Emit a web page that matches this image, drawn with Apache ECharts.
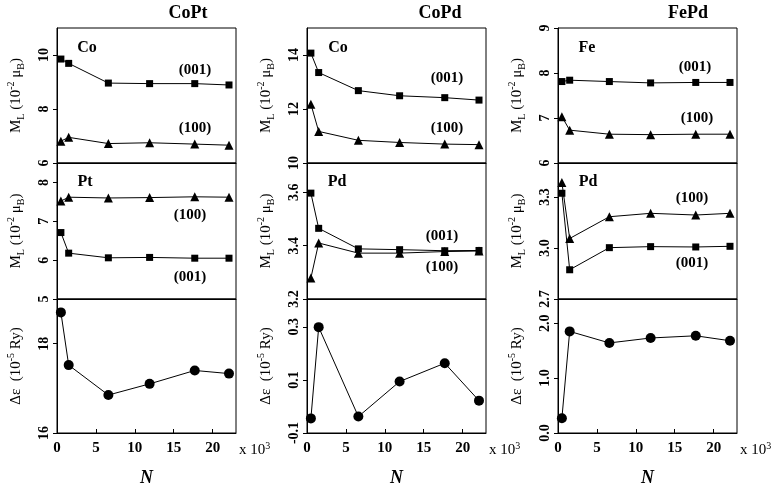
<!DOCTYPE html>
<html>
<head>
<meta charset="utf-8">
<script src="https://cdn.jsdelivr.net/npm/echarts@6/dist/echarts.min.js"></script>
<style>
  html, body { margin: 0; padding: 0; background: #fff; }
  #chart { width: 774px; height: 489px; }
</style>
</head>
<body>
<div id="chart"></div>
<script>
// cluster size N (x 10^3), shared by all panels
var N = [0.5, 1.5, 6.6, 11.9, 17.7, 22.1];

// CoPt
var coptCo001 = [9.85, 9.69, 8.96, 8.94, 8.94, 8.89];
var coptCo100 = [6.81, 6.95, 6.72, 6.75, 6.70, 6.66];
var coptPt100 = [7.52, 7.62, 7.60, 7.61, 7.63, 7.62];
var coptPt001 = [6.71, 6.18, 6.06, 6.07, 6.05, 6.05];
var coptDe = [18.70, 17.52, 16.85, 17.10, 17.40, 17.33];

// CoPd
var copdCo001 = [14.07, 13.35, 12.68, 12.49, 12.42, 12.33];
var copdCo100 = [12.18, 11.17, 10.84, 10.76, 10.70, 10.68];
var copdPd001 = [3.597, 3.465, 3.388, 3.385, 3.381, 3.382];
var copdPd100 = [3.279, 3.410, 3.372, 3.372, 3.378, 3.380];
var copdDe = [-0.045, 0.299, -0.038, 0.094, 0.163, 0.022];

// FePd
var fepdFe001 = [7.81, 7.84, 7.81, 7.78, 7.79, 7.79];
var fepdFe100 = [7.03, 6.73, 6.64, 6.63, 6.64, 6.64];
var fepdPd100 = [3.385, 3.056, 3.184, 3.204, 3.194, 3.204];
var fepdPd001 = [3.322, 2.872, 3.002, 3.008, 3.006, 3.010];
var fepdDe = [0.27, 1.85, 1.64, 1.73, 1.77, 1.68];

var systems = ['CoPt', 'CoPd', 'FePd'];

var font = '"Liberation Serif", "DejaVu Serif", serif';
var colLeft = [57, 307, 558];
var colWidth = 179;
var rowTop = [28, 163, 299];
var rowHeight = [135, 136, 134];

var mlName = 'M{sub|L} (10{sup|-2} μ{sub|B})';
var deName = 'Δε  (10{sup|-5} Ry)';

var grids = [], xAxes = [], yAxes = [], series = [];

function addPanel(col, row, y, lines) {
  var idx = grids.length;
  var bottomRow = row === 2;
  grids.push({
    left: colLeft[col], top: rowTop[row], width: colWidth, height: rowHeight[row],
    show: true, borderColor: '#000', borderWidth: 1, backgroundColor: 'transparent'
  });
  xAxes.push({
    gridIndex: idx, type: 'value', min: 0, max: 23, interval: 5,
    axisLine: { show: true, onZero: false, lineStyle: { color: '#000', width: 1 } },
    axisTick: { show: bottomRow, inside: true, length: 4, lineStyle: { color: '#000' } },
    axisLabel: {
      show: bottomRow, showMaxLabel: false, color: '#000', fontFamily: font,
      fontSize: 15, fontWeight: 'bold', margin: 8
    },
    splitLine: { show: false },
    name: bottomRow ? 'N' : '', nameLocation: 'middle', nameGap: 36,
    nameTextStyle: { fontFamily: font, fontSize: 18, fontStyle: 'italic', fontWeight: 'bold', color: '#000' }
  });
  yAxes.push({
    gridIndex: idx, type: 'value', min: y.min, max: y.max, interval: y.interval,
    axisLine: { show: true, onZero: false, lineStyle: { color: '#000', width: 1 } },
    axisTick: { show: true, length: 4, lineStyle: { color: '#000' } },
    axisLabel: {
      rotate: 90, showMaxLabel: y.showMax, color: '#000', fontFamily: font,
      fontSize: 14, fontWeight: 'bold', margin: 6,
      formatter: function (v) { return y.digits ? v.toFixed(y.digits) : String(Math.round(v)); }
    },
    splitLine: { show: false },
    name: bottomRow ? deName : mlName, nameLocation: 'middle', nameRotate: 90, nameGap: 31,
    nameTextStyle: {
      fontFamily: font, fontSize: 15, color: '#000', lineHeight: 20,
      rich: {
        sub: { fontFamily: font, fontSize: 10, verticalAlign: 'bottom', lineHeight: 20, color: '#000' },
        sup: { fontFamily: font, fontSize: 10, verticalAlign: 'top', lineHeight: 20, color: '#000' }
      }
    }
  });
  lines.forEach(function (l) {
    series.push({
      type: 'line', xAxisIndex: idx, yAxisIndex: idx,
      data: N.map(function (n, i) { return [n, l.values[i]]; }),
      symbol: l.symbol, symbolSize: l.size, showSymbol: true,
      itemStyle: { color: '#000' },
      lineStyle: { color: '#000', width: 1 },
      animation: false, silent: true
    });
  });
}

var sq = 'rect', tri = 'triangle', dot = 'circle';

addPanel(0, 0, { min: 6, max: 11, interval: 2, showMax: false },
  [{ values: coptCo001, symbol: sq, size: 7 }, { values: coptCo100, symbol: tri, size: 9 }]);
addPanel(0, 1, { min: 5, max: 8.5, interval: 1, showMax: false },
  [{ values: coptPt100, symbol: tri, size: 9 }, { values: coptPt001, symbol: sq, size: 7 }]);
addPanel(0, 2, { min: 16, max: 19, interval: 2, showMax: false },
  [{ values: coptDe, symbol: dot, size: 10 }]);

addPanel(1, 0, { min: 10, max: 15, interval: 2, showMax: false },
  [{ values: copdCo001, symbol: sq, size: 7 }, { values: copdCo100, symbol: tri, size: 9 }]);
addPanel(1, 1, { min: 3.2, max: 3.71, interval: 0.2, showMax: false, digits: 1 },
  [{ values: copdPd001, symbol: sq, size: 7 }, { values: copdPd100, symbol: tri, size: 9 }]);
addPanel(1, 2, { min: -0.1, max: 0.405, interval: 0.2, showMax: false, digits: 1 },
  [{ values: copdDe, symbol: dot, size: 10 }]);

addPanel(2, 0, { min: 6, max: 9, interval: 1, showMax: true },
  [{ values: fepdFe001, symbol: sq, size: 7 }, { values: fepdFe100, symbol: tri, size: 9 }]);
addPanel(2, 1, { min: 2.7, max: 3.5, interval: 0.3, showMax: false, digits: 1 },
  [{ values: fepdPd100, symbol: tri, size: 9 }, { values: fepdPd001, symbol: sq, size: 7 }]);
addPanel(2, 2, { min: 0, max: 2.44, interval: 1, showMax: false, digits: 1 },
  [{ values: fepdDe, symbol: dot, size: 10 }]);

// text annotations
function txt(text, x, y, size) {
  return {
    type: 'text', silent: true,
    style: { text: text, x: x, y: y, fill: '#000', font: 'bold ' + size + 'px ' + font,
             textAlign: 'center', textVerticalAlign: 'middle' }
  };
}

var graphics = [
  txt(systems[0], 188, 13, 18), txt(systems[1], 440, 13, 18), txt(systems[2], 688, 13, 18),
  txt('Co', 87, 48, 16), txt('(001)', 195, 70, 15), txt('(100)', 195, 128, 15),
  txt('Pt', 85, 182, 16), txt('(100)', 190, 215, 15), txt('(001)', 190, 277, 15),
  txt('Co', 338, 48, 16), txt('(001)', 447, 78, 15), txt('(100)', 447, 128, 15),
  txt('Pd', 337, 182, 16), txt('(001)', 442, 236, 15), txt('(100)', 442, 267, 15),
  txt('Fe', 587, 48, 16), txt('(001)', 695, 67, 15), txt('(100)', 697, 118, 15),
  txt('Pd', 588, 182, 16), txt('(100)', 692, 198, 15), txt('(001)', 692, 263, 15)
];
colLeft.forEach(function (l) {
  graphics.push({
    type: 'text', silent: true,
    style: {
      text: 'x 10{sup|3}', x: l + colWidth + 3, y: 450, fill: '#000',
      font: '15px ' + font, textAlign: 'left', textVerticalAlign: 'middle',
      rich: { sup: { fontSize: 10, fontFamily: font, verticalAlign: 'top', lineHeight: 18 } }
    }
  });
});

var chart = echarts.init(document.getElementById('chart'), null, { renderer: 'canvas' });
chart.setOption({
  backgroundColor: '#fff',
  animation: false,
  grid: grids,
  xAxis: xAxes,
  yAxis: yAxes,
  series: series,
  graphic: graphics
});
</script>
</body>
</html>
